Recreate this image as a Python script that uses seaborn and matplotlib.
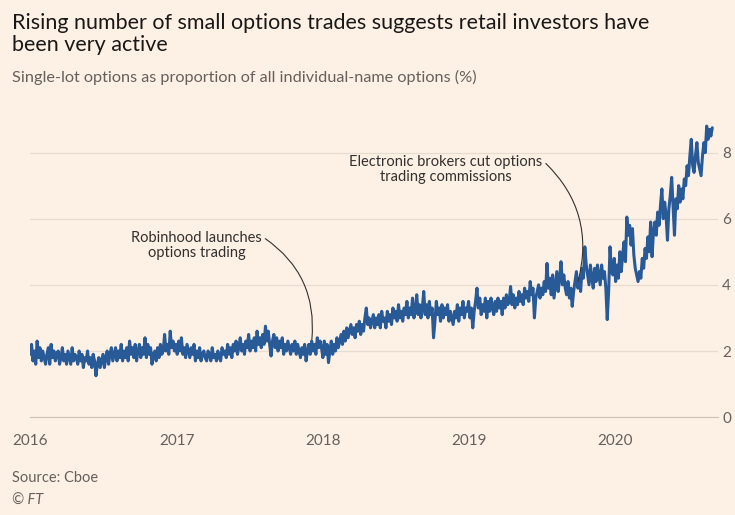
import pandas as pd
import numpy as np
import matplotlib.pyplot as plt
import matplotlib.dates as mdates
import seaborn as sns

# twice-weekly readings of single-lot share (%)
vals_2016 = [1.9, 2.2, 1.7, 2.0, 1.6, 2.3, 1.8, 2.1, 1.7, 2.0, 1.8, 1.6, 1.9, 2.1, 1.6, 2.2, 1.8, 2.0, 1.7, 1.9,
             2.0, 1.6, 1.8, 2.1, 1.7, 1.9, 1.6, 2.0, 1.8, 1.6, 2.1, 1.7, 1.9, 1.8, 1.6, 2.0, 1.7, 1.9, 1.5, 1.8,
             1.7, 2.0, 1.6, 1.8, 1.5, 1.9, 1.7, 1.25, 1.6, 1.8, 1.5, 1.7, 1.9, 1.5, 1.8, 2.0, 1.6, 1.9, 2.1, 1.7,
             1.9, 2.1, 1.7, 2.0, 1.8, 2.2, 1.7, 2.0, 1.8, 2.1, 1.7, 2.3, 1.9, 2.1, 1.8, 2.2, 1.7, 2.0, 2.2, 1.8,
             2.1, 1.9, 2.4, 1.8, 2.2, 1.9, 2.1, 1.6, 1.9, 2.0, 1.7, 2.1, 1.8, 2.2, 1.9, 2.0, 2.5, 2.0, 2.2, 1.9,
             2.6, 2.1, 2.3, 2.0]
vals_2017 = [2.2, 1.9, 2.3, 2.0, 2.4, 1.9, 2.1, 1.8, 2.2, 2.0, 1.8, 2.1, 1.9, 2.2, 1.7, 2.0, 1.8, 2.1, 1.7, 1.9,
             2.0, 1.8, 1.7, 2.0, 1.9, 1.7, 2.1, 1.8, 1.9, 1.7, 2.0, 1.8, 1.7, 2.1, 1.9, 2.0, 1.8, 2.2, 1.9, 2.1,
             1.8, 2.2, 2.0, 2.3, 1.9, 2.1, 2.4, 2.0, 2.2, 1.9, 2.3, 2.1, 2.5, 2.0, 2.3, 2.1, 2.4, 2.0, 2.6, 2.2,
             2.4, 2.1, 2.5, 2.2, 2.75, 2.3, 2.6, 2.2, 1.85, 2.3, 2.5, 2.1, 2.4, 2.0, 2.3, 2.1, 2.4, 1.9, 2.2, 2.0,
             2.3, 2.1, 1.9, 2.2, 2.0, 2.3, 1.9, 2.2, 2.0, 1.8, 2.1, 1.9, 2.2, 1.7, 2.0, 2.2, 1.9, 2.3, 2.0, 2.2,
             1.9, 2.4, 2.1, 2.3]
vals_2018 = [2.1, 1.8, 2.3, 1.9, 2.2, 1.65, 2.0, 2.3, 1.9, 2.2, 2.0, 2.4, 2.1, 2.3, 2.5, 2.2, 2.6, 2.3, 2.7, 2.4,
             2.6, 2.8, 2.5, 2.7, 2.4, 2.8, 2.6, 2.9, 2.5, 2.8, 2.6, 3.0, 3.3, 2.8, 3.0, 2.7, 2.9, 3.1, 2.7, 3.0,
             2.8, 3.1, 2.7, 3.2, 2.9, 3.0, 2.7, 3.2, 2.9, 3.1, 2.8, 3.3, 3.0, 3.2, 2.9, 3.4, 3.0, 3.2, 2.9, 3.3,
             3.1, 3.5, 3.0, 3.3, 3.1, 3.6, 3.0, 3.2, 3.7, 3.1, 3.4, 3.0, 3.3, 3.8, 3.1, 3.4, 3.0, 3.5, 3.1, 3.3,
             2.4, 2.9, 3.5, 3.1, 3.3, 2.9, 3.4, 3.0, 3.3, 3.1, 3.4, 2.9, 3.2, 3.0, 2.8, 3.2, 3.0, 3.4, 2.9, 3.3,
             3.1, 3.5, 3.0, 3.3]
vals_2019 = [3.2, 3.5, 3.0, 3.3, 2.7, 3.2, 3.5, 3.9, 3.3, 3.6, 3.1, 3.4, 3.2, 3.6, 3.0, 3.5, 3.2, 3.6, 3.3, 3.1,
             3.5, 3.2, 3.6, 3.3, 3.5, 3.1, 3.6, 3.3, 3.7, 3.4, 3.5, 3.95, 3.4, 3.7, 3.3, 3.6, 3.4, 3.8, 3.5, 3.7,
             3.4, 3.9, 3.6, 3.8, 3.5, 4.1, 3.7, 3.9, 3.0, 3.6, 3.8, 4.0, 3.6, 3.9, 3.7, 4.1, 3.8, 4.65, 3.9, 4.2,
             3.7, 4.3, 3.6, 4.0, 4.4, 3.8, 4.2, 4.7, 4.0, 4.3, 3.9, 3.7, 4.1, 3.6, 3.9, 3.35, 3.8, 4.1, 4.4, 3.9,
             4.2, 3.8, 4.5, 4.2, 5.15, 4.6, 4.3, 4.0, 4.6, 4.2, 3.9, 4.5, 4.1, 4.6, 4.3, 4.0, 4.6, 4.2, 4.4, 3.9,
             2.95, 3.8, 5.15, 4.4]
vals_2020 = [4.3, 4.8, 4.1, 4.6, 4.2, 5.0, 4.4, 4.9, 5.3, 4.7, 6.05, 5.5, 5.8, 5.2, 5.7, 4.9, 4.5, 4.3, 4.1, 4.4,
             4.2, 4.8, 4.5, 5.1, 4.8, 5.45, 5.0, 5.9, 4.85, 5.6, 5.9, 5.5, 6.2, 5.8, 6.4, 6.9, 6.0, 6.5, 6.1, 5.35,
             6.3, 6.7, 7.25, 6.4, 5.5, 6.6, 6.3, 7.0, 6.5, 6.9, 6.6, 7.2, 7.0, 7.6, 7.3, 7.9, 8.4, 7.6, 7.4, 7.9,
             8.3, 7.7, 7.5, 7.3, 7.9, 8.3, 8.0, 8.8, 8.4, 8.7, 8.5, 8.75]

share = vals_2016 + vals_2017 + vals_2018 + vals_2019 + vals_2020
dates = pd.date_range("2016-01-01", periods=len(share), freq="84h")
df = pd.DataFrame({"date": dates, "share": share})

years = [2016, 2017, 2018, 2019, 2020]
yticks = [0, 2, 4, 6, 8]

bg = "#fdf1e6"
grey = "#66605c"
dark = "#33302e"

sns.set_style("white", {"axes.facecolor": bg, "figure.facecolor": bg})
plt.rcParams["font.family"] = ["Lato", "DejaVu Sans"]

fig = plt.figure(figsize=(7.35, 5.15), dpi=100)
ax = fig.add_axes([0.041, 0.19, 0.936, 0.578])

sns.lineplot(data=df, x="date", y="share", ax=ax, color="#285a98", linewidth=2.2)

ax.set_xlim(pd.Timestamp("2016-01-01"), pd.Timestamp("2020-09-15"))
ax.set_ylim(0, 9)
ax.set_yticks(yticks)
ax.yaxis.tick_right()
ax.tick_params(axis="y", length=0, pad=3, labelsize=11, labelcolor=grey)
ax.grid(axis="y", color="#e8dcd1", linewidth=0.9)
ax.set_xticks([pd.Timestamp(f"{y}-01-01") for y in years])
ax.xaxis.set_major_formatter(mdates.DateFormatter("%Y"))
ax.tick_params(axis="x", length=6, width=0.8, color="#cec2b8", labelsize=11,
               labelcolor=grey, pad=6)
for s in ["top", "left", "right"]:
    ax.spines[s].set_visible(False)
ax.spines["bottom"].set_color("#cec2b8")
ax.set_xlabel("")
ax.set_ylabel("")

ax.annotate("Robinhood launches\noptions trading",
            xy=(pd.Timestamp("2017-12-05"), 2.35), xytext=(pd.Timestamp("2017-02-20"), 5.2),
            ha="center", va="center", fontsize=10.5, color=dark, linespacing=1.1,
            arrowprops=dict(arrowstyle="-", color=dark, lw=0.8, relpos=(1.0, 0.8),
                            connectionstyle="arc3,rad=-0.3", shrinkA=0, shrinkB=0))
ax.annotate("Electronic brokers cut options\ntrading commissions",
            xy=(pd.Timestamp("2019-10-01"), 4.1), xytext=(pd.Timestamp("2018-11-05"), 7.5),
            ha="center", va="center", fontsize=10.5, color=dark, linespacing=1.1,
            arrowprops=dict(arrowstyle="-", color=dark, lw=0.8, relpos=(1.0, 0.8),
                            connectionstyle="arc3,rad=-0.3", shrinkA=0, shrinkB=0))

fig.text(0.016, 0.975, "Rising number of small options trades suggests retail investors have\nbeen very active",
         ha="left", va="top", fontsize=15.5, color="#1a1817", linespacing=1.15)
fig.text(0.016, 0.85, "Single-lot options as proportion of all individual-name options (%)",
         ha="left", va="center", fontsize=11.7, color=grey)
fig.text(0.016, 0.072, "Source: Cboe", ha="left", va="center", fontsize=10.5, color=grey)
fig.text(0.016, 0.027, "© FT", ha="left", va="center", fontsize=10.5, color=grey, style="italic")

fig.savefig("out.png", dpi=100, facecolor=bg)
